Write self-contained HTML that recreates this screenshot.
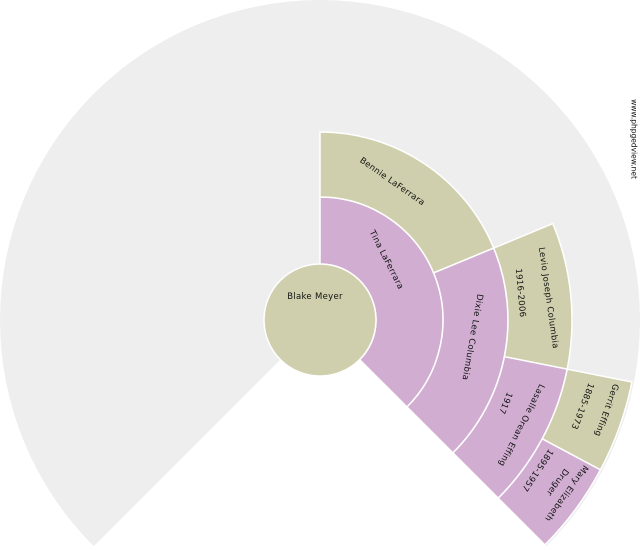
<!DOCTYPE html>
<html><head><meta charset="utf-8"><style>
html,body{margin:0;padding:0;background:#fff;}
svg{display:block;}
text{font-family:"DejaVu Sans","Liberation Sans",sans-serif;font-size:8.5px;fill:#111;text-anchor:middle;dominant-baseline:central;letter-spacing:0.3px;}
</style></head><body>
<svg width="640" height="550" viewBox="0 0 640 550" xmlns="http://www.w3.org/2000/svg">
<path d="M320,320 L546.3,546.3 A320,320 0 1 0 93.7,546.3 Z" fill="#eeeeee"/>
<g stroke="#ffffff" stroke-width="1.5">
<path d="M320,197 A123,123 0 0 1 407,407 L359.6,359.6 A56,56 0 0 0 320,264 Z" fill="#d1aed1"/>
<path d="M320,132 A188,188 0 0 1 493.7,248.1 L433.6,272.9 A123,123 0 0 0 320,197 Z" fill="#cfcfad"/>
<path d="M493.7,248.1 A188,188 0 0 1 452.9,452.9 L407,407 A123,123 0 0 0 433.6,272.9 Z" fill="#d1aed1"/>
<path d="M552.8,223.6 A252,252 0 0 1 567.2,369.2 L504.4,356.7 A188,188 0 0 0 493.7,248.1 Z" fill="#cfcfad"/>
<path d="M567.2,369.2 A252,252 0 0 1 498.2,498.2 L452.9,452.9 A188,188 0 0 0 504.4,356.7 Z" fill="#d1aed1"/>
<path d="M631.9,382 A318,318 0 0 1 600.4,469.9 L542.2,438.8 A252,252 0 0 0 567.2,369.2 Z" fill="#cfcfad"/>
<path d="M600.4,469.9 A318,318 0 0 1 544.9,544.9 L498.2,498.2 A252,252 0 0 0 542.2,438.8 Z" fill="#d1aed1"/>
<circle cx="320" cy="320" r="56" fill="#cfcfad"/>
</g>
<text x="315" y="297">Blake Meyer</text>
<text transform="translate(386,260) rotate(63)">Tina LaFerrara</text>
<text transform="translate(392,182) rotate(35)">Bennie LaFerrara</text>
<text transform="translate(472,337) rotate(100)">Dixie Lee Columbia</text>
<text transform="translate(548,298) rotate(82)">Levio Joseph Columbia</text>
<text transform="translate(520,293) rotate(85)">1916-2006</text>
<text transform="translate(521,425) rotate(117)">Lasalle Orean Effing</text>
<text transform="translate(505,403) rotate(112)">1917</text>
<text transform="translate(606,410) rotate(110)">Gerrit Effing</text>
<text transform="translate(582,406) rotate(111)">1885-1973</text>
<text transform="translate(566,493) rotate(126)">Mary Elizabeth</text>
<text transform="translate(557,482) rotate(126)">Druger</text>
<text transform="translate(537,470) rotate(124)">1895-1957</text>
<text transform="translate(634,139) rotate(90)" style="font-size:7.5px;letter-spacing:0">www.phpgedview.net</text>
</svg>
</body></html>
